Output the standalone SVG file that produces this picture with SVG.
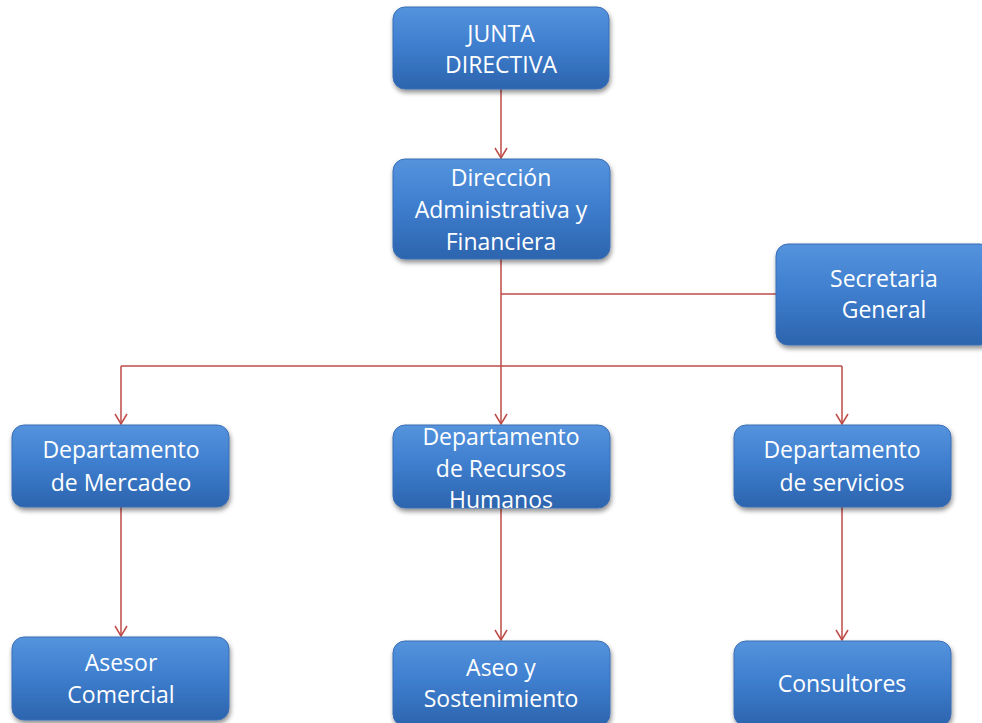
<svg xmlns="http://www.w3.org/2000/svg" width="982" height="723" viewBox="0 0 982 723">
<defs>
<linearGradient id="g" x1="0" y1="0" x2="0" y2="1">
<stop offset="0" stop-color="#5593DD"/>
<stop offset="0.45" stop-color="#3F7FCF"/>
<stop offset="1" stop-color="#2C64AE"/>
</linearGradient>
<filter id="sh" x="-10%" y="-10%" width="125%" height="135%">
<feGaussianBlur in="SourceAlpha" stdDeviation="2.5"/>
<feOffset dx="1" dy="3" result="b"/>
<feComponentTransfer><feFuncA type="linear" slope="0.45"/></feComponentTransfer>
<feMerge><feMergeNode/><feMergeNode in="SourceGraphic"/></feMerge>
</filter>
<marker id="arr" markerWidth="14" markerHeight="14" refX="12" refY="7" orient="auto" markerUnits="userSpaceOnUse" viewBox="0 0 14 14">
<path d="M2,1 L12,7 L2,13" fill="none" stroke="#BE4B48" stroke-width="1.5"/>
</marker>
</defs>
<style>
.box{fill:url(#g);stroke:#3A6EB5;stroke-width:1;filter:url(#sh)}
.t{font-family:"Open Sans","Liberation Sans",sans-serif;font-size:23px;fill:#fff;text-anchor:middle}
.c{fill:none;stroke:#BE4B48;stroke-width:1.5}
</style>
<rect width="982" height="723" fill="#fff"/>
<g id="connectors">
<path class="c" d="M501,89 V158" marker-end="url(#arr)"/>
<path class="c" d="M501,259 V424" marker-end="url(#arr)"/>
<path class="c" d="M501,294 H776"/>
<path class="c" d="M121,366 H842"/>
<path class="c" d="M121,366 V424" marker-end="url(#arr)"/>
<path class="c" d="M842,366 V424" marker-end="url(#arr)"/>
<path class="c" d="M121,507 V636" marker-end="url(#arr)"/>
<path class="c" d="M501,508 V640" marker-end="url(#arr)"/>
<path class="c" d="M842,507 V640" marker-end="url(#arr)"/>
</g>
<g id="junta">
<rect class="box" x="393" y="7" width="216" height="82" rx="12"/>
<text class="t" x="501" y="42">JUNTA</text>
<text class="t" x="501" y="73">DIRECTIVA</text>
</g>
<g id="direccion">
<rect class="box" x="393" y="159" width="217" height="100" rx="12"/>
<text class="t" x="501" y="186">Dirección</text>
<text class="t" x="501" y="218">Administrativa y</text>
<text class="t" x="501" y="250">Financiera</text>
</g>
<g id="secretaria">
<rect class="box" x="776" y="244" width="216" height="101" rx="12"/>
<text class="t" x="884" y="287">Secretaria</text>
<text class="t" x="884" y="318">General</text>
</g>
<g id="mercadeo">
<rect class="box" x="12" y="425" width="217" height="82" rx="12"/>
<text class="t" x="121" y="458">Departamento</text>
<text class="t" x="121" y="491">de Mercadeo</text>
</g>
<g id="rrhh">
<rect class="box" x="393" y="425" width="217" height="83" rx="12"/>
<text class="t" x="501" y="445">Departamento</text>
<text class="t" x="501" y="477">de Recursos</text>
<text class="t" x="501" y="508">Humanos</text>
</g>
<g id="servicios">
<rect class="box" x="734" y="425" width="217" height="82" rx="12"/>
<text class="t" x="842" y="458">Departamento</text>
<text class="t" x="842" y="491">de servicios</text>
</g>
<g id="asesor">
<rect class="box" x="12" y="637" width="217" height="83" rx="12"/>
<text class="t" x="121" y="671">Asesor</text>
<text class="t" x="121" y="703">Comercial</text>
</g>
<g id="aseo">
<rect class="box" x="393" y="641" width="217" height="85" rx="12"/>
<text class="t" x="501" y="676">Aseo y</text>
<text class="t" x="501" y="707">Sostenimiento</text>
</g>
<g id="consultores">
<rect class="box" x="734" y="641" width="217" height="85" rx="12"/>
<text class="t" x="842" y="692">Consultores</text>
</g>
</svg>
